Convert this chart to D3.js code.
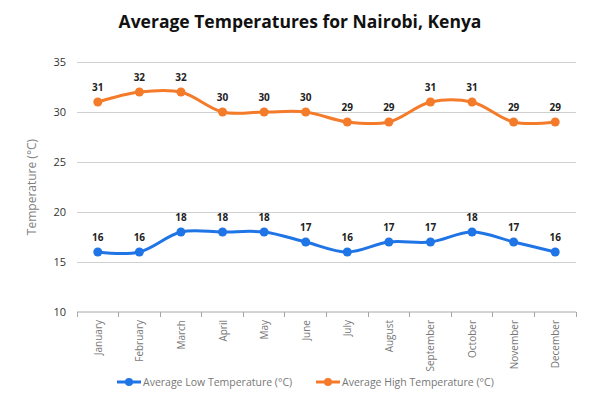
<!DOCTYPE html>
<html><head><meta charset="utf-8">
<script src="https://cdn.jsdelivr.net/npm/d3@7"></script>
<style>body{margin:0;background:#fff}svg{display:block}</style>
</head><body>
<svg id="c" width="600" height="400"></svg>
<script>
const months = ["January","February","March","April","May","June","July","August","September","October","November","December"];
const lowTemps = [16,16,18,18,18,17,16,17,17,18,17,16];
const highTemps = [31,32,32,30,30,30,29,29,31,31,29,29];
const yTicks = [10,15,20,25,30,35];
const seriesNames = ["Average Low Temperature (°C)","Average High Temperature (°C)"];
const seriesColors = ["#1f74e6","#f47b2a"];

const svg = d3.select("#c");
const font = "'Open Sans', 'DejaVu Sans', sans-serif";
const x = d3.scaleBand().domain(months).range([77, 576]);
const y = d3.scaleLinear().domain([10,35]).range([312, 62]);

svg.append("text").attr("x",300).attr("y",28).attr("text-anchor","middle")
  .attr("font-family",font).attr("font-weight","bold").attr("font-size",17.5).attr("fill","#111")
  .text("Average Temperatures for Nairobi, Kenya");

// grid
svg.append("g").selectAll("line").data(yTicks.filter(d=>d>10)).join("line")
  .attr("x1",77).attr("x2",576).attr("y1",d=>y(d)).attr("y2",d=>y(d))
  .attr("stroke","#d0d0d0").attr("stroke-width",1).attr("shape-rendering","crispEdges");

// y axis labels
svg.append("g").selectAll("text").data(yTicks).join("text")
  .attr("x",66).attr("y",d=>y(d)+4).attr("text-anchor","end")
  .attr("font-family",font).attr("font-size",11).attr("fill","#333").text(d=>d);

// x axis
const xa = svg.append("g").attr("transform","translate(0,312)")
  .call(d3.axisBottom(x).tickSize(0).tickFormat(""));
xa.select(".domain").attr("stroke","#a6a6a6").attr("d","M77,0H576");
svg.append("g").selectAll("line").data(d3.range(months.length+1)).join("line")
  .attr("x1",i=>77+i*x.step()).attr("x2",i=>77+i*x.step()).attr("y1",312).attr("y2",317)
  .attr("stroke","#a6a6a6").attr("shape-rendering","crispEdges");
svg.append("g").selectAll("text").data(months).join("text")
  .attr("transform",d=>`translate(${x(d)+x.bandwidth()/2+4},${320}) rotate(-90)`)
  .attr("text-anchor","end").attr("font-family",font).attr("font-size",10).attr("fill","#777").text(d=>d);

// y title
svg.append("text").attr("transform","translate(36,187) rotate(-90)").attr("text-anchor","middle")
  .attr("font-family",font).attr("font-size",12).attr("fill","#7f7f7f").text("Temperature (°C)");

const line = d3.line().x((d,i)=>x(months[i])+x.bandwidth()/2).y(d=>y(d)).curve(d3.curveCatmullRom.alpha(0.5));
[lowTemps, highTemps].forEach((vals, si)=>{
  const g = svg.append("g");
  g.append("path").attr("d",line(vals)).attr("fill","none").attr("stroke",seriesColors[si]).attr("stroke-width",3);
  g.selectAll("circle").data(vals).join("circle")
    .attr("cx",(d,i)=>x(months[i])+x.bandwidth()/2).attr("cy",d=>y(d)).attr("r",4.5).attr("fill",seriesColors[si]);
  g.selectAll("text").data(vals).join("text")
    .attr("x",(d,i)=>x(months[i])+x.bandwidth()/2).attr("y",d=>y(d)-11).attr("text-anchor","middle")
    .attr("font-family",font).attr("font-weight","bold").attr("font-size",10).attr("fill","#222").text(d=>d);
});

// legend
const legX = [117, 316];
seriesNames.forEach((n,i)=>{
  const g = svg.append("g");
  g.append("line").attr("x1",legX[i]).attr("x2",legX[i]+24).attr("y1",382).attr("y2",382)
    .attr("stroke",seriesColors[i]).attr("stroke-width",3);
  g.append("circle").attr("cx",legX[i]+12).attr("cy",382).attr("r",4).attr("fill",seriesColors[i]);
  g.append("text").attr("x",legX[i]+26).attr("y",386).attr("font-family",font).attr("font-size",10.5)
    .attr("fill","#777").text(n);
});
</script>
</body></html>
